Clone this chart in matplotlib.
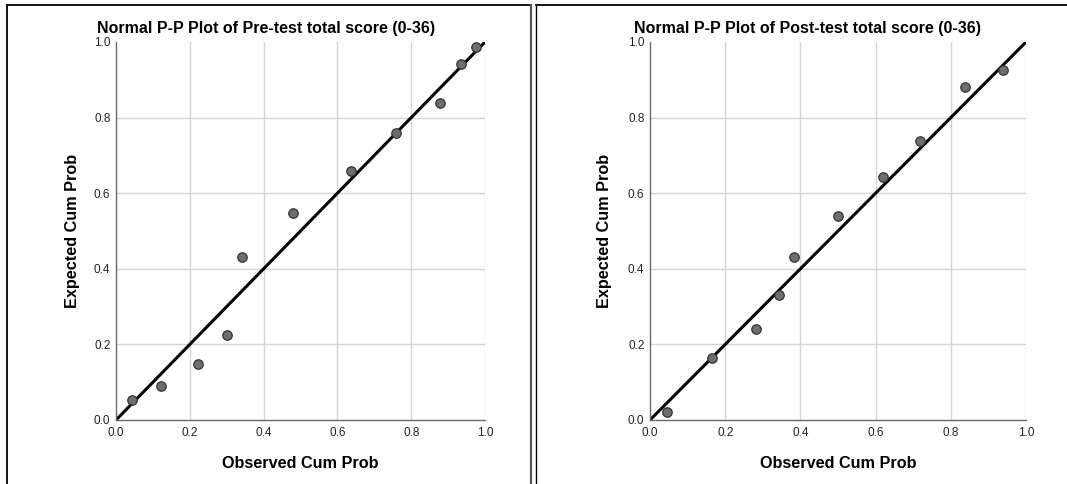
import matplotlib
matplotlib.use("Agg")
import matplotlib.pyplot as plt
from matplotlib.lines import Line2D

plt.rcParams['font.family'] = ['Liberation Sans', 'DejaVu Sans']

pre_observed = [0.043, 0.121, 0.221, 0.301, 0.341, 0.479, 0.638, 0.758, 0.877, 0.935, 0.976]
pre_expected = [0.054, 0.091, 0.148, 0.226, 0.431, 0.547, 0.659, 0.758, 0.839, 0.943, 0.987]
post_observed = [0.044, 0.164, 0.281, 0.342, 0.382, 0.501, 0.620, 0.719, 0.839, 0.938]
post_expected = [0.020, 0.165, 0.240, 0.331, 0.432, 0.539, 0.643, 0.737, 0.880, 0.926]
titles = ["Normal P-P Plot of Pre-test total score (0-36)",
          "Normal P-P Plot of Post-test total score (0-36)"]
ticks = [0.0, 0.2, 0.4, 0.6, 0.8, 1.0]
tick_labels = ["0.0", "0.2", "0.4", "0.6", "0.8", "1.0"]

W, H = 1067, 484
fig = plt.figure(figsize=(W / 100, H / 100), dpi=100)
fig.patch.set_facecolor("white")

def fx(px):
    return px / W

def fy(py):
    return 1 - py / H

# panel frames
fig.add_artist(Line2D([fx(7), fx(7)], [fy(5), fy(490)], color="black", lw=1.3))
fig.add_artist(Line2D([fx(7), fx(531)], [fy(5), fy(5)], color="black", lw=1.3))
fig.add_artist(Line2D([fx(531), fx(531)], [fy(5), fy(490)], color="#555555", lw=1.6))
fig.add_artist(Line2D([fx(536), fx(536)], [fy(5), fy(490)], color="black", lw=1.0))
fig.add_artist(Line2D([fx(536), fx(1070)], [fy(5), fy(5)], color="black", lw=1.3))

panels = [
    (116, 485, pre_observed, pre_expected, titles[0], 266, 72),
    (650, 1026, post_observed, post_expected, titles[1], 808, 605),
]

for left, right, xs, ys, title, tcx, ylx in panels:
    top, bottom = 42, 420
    ax = fig.add_axes([fx(left), fy(bottom), fx(right - left), (bottom - top) / H])
    ax.set_xlim(0, 1)
    ax.set_ylim(0, 1)
    for v in ticks[1:]:
        ax.axvline(v, color="#d4d4d4", lw=1.0, zorder=0)
    for v in ticks[1:-1]:
        ax.axhline(v, color="#d4d4d4", lw=1.0, zorder=0)
    ax.plot([0, 1], [0, 1], color="black", lw=2.2, zorder=2, solid_capstyle="butt")
    ax.scatter(xs, ys, s=46, facecolor="#6e6e6e", edgecolor="#333333", linewidth=0.9, zorder=3)
    ax.set_xticks(ticks)
    ax.set_xticklabels(tick_labels)
    ax.set_yticks(ticks)
    ax.set_yticklabels(tick_labels)
    ax.tick_params(length=0, labelsize=8.5, colors="#222222")
    ax.tick_params(axis="x", pad=5)
    ax.tick_params(axis="y", pad=4)
    for s in ["top", "right"]:
        ax.spines[s].set_visible(False)
    for s in ["left", "bottom"]:
        ax.spines[s].set_color("#6a6a6a")
        ax.spines[s].set_linewidth(1.0)
    fig.text(fx(tcx), fy(29), title, ha="center", va="center", fontsize=11.5, fontweight="bold")
    fig.text(fx((left + right) / 2), fy(463), "Observed Cum Prob", ha="center", va="center",
             fontsize=11.7, fontweight="bold")
    fig.text(fx(ylx), fy((top + bottom) / 2), "Expected Cum Prob", ha="center", va="center",
             rotation=90, fontsize=11.7, fontweight="bold")

fig.savefig("out.png", dpi=100)
